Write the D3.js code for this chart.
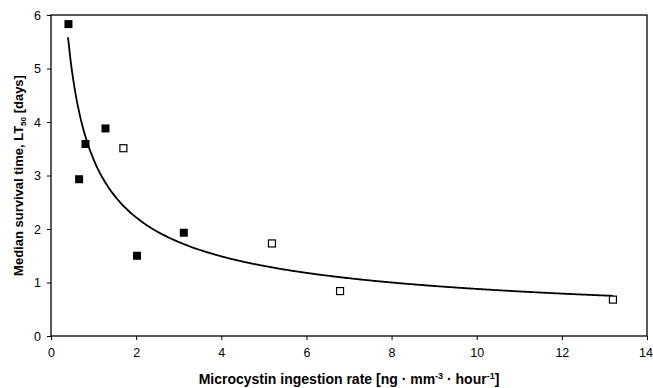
<!DOCTYPE html>
<html>
<head>
<meta charset="utf-8">
<script src="https://cdn.jsdelivr.net/npm/d3@7"></script>
<style>
	body { margin: 0; background: #fff; }
	text { font-family: 'Liberation Sans', Arial, sans-serif; }
</style>
</head>
<body>
<div id="chart"></div>
<script>
// filled squares (one set) and open squares (other set)
const filledX = [0.41, 0.66, 0.81, 1.28, 2.02, 3.12]
const filledY = [5.83, 2.93, 3.59, 3.88, 1.50, 1.93]
const openX = [1.70, 5.19, 6.79, 13.2]
const openY = [3.51, 1.73, 0.84, 0.68]
// power trend line y = a * x^b
const fitA = 3.3
const fitB = -0.574
const fitRange = [0.4, 13.2]
const xTicks = [0, 2, 4, 6, 8, 10, 12, 14]
const yTicks = [0, 1, 2, 3, 4, 5, 6]

const W = 653, H = 388
const margin = { top: 15, right: 6, bottom: 52, left: 51 }
const w = W - margin.left - margin.right
const h = H - margin.top - margin.bottom

const svg = d3.select('#chart').append('svg').attr('width', W).attr('height', H)
const g = svg.append('g').attr('transform', 'translate(' + margin.left + ',' + margin.top + ')')

const x = d3.scaleLinear().domain([0, 14]).range([0, w])
const y = d3.scaleLinear().domain([0, 6]).range([h, 0])

// frame
g.append('rect').attr('width', w).attr('height', h)
	.style('fill', 'none').style('stroke', '#000').style('stroke-width', 1.3)

const xAxis = g.append('g').attr('transform', 'translate(0,' + h + ')')
	.call(d3.axisBottom(x).tickValues(xTicks).tickFormat(d3.format('d')).tickSize(4).tickPadding(8))
const yAxis = g.append('g')
	.call(d3.axisLeft(y).tickValues(yTicks).tickFormat(d3.format('d')).tickSize(4).tickPadding(6))
;[xAxis, yAxis].forEach((a) => {
	a.select('.domain').remove()
	a.selectAll('line').style('stroke', '#000')
	a.selectAll('text').style('font-size', '12.5px').style('fill', '#000')
})
// last x label sits right at the page edge
xAxis.selectAll('.tick text').filter((d) => d === 14).attr('x', -1.5)

// trend line
const curveData = d3.range(fitRange[0], fitRange[1] + 0.001, 0.05).map((v) => [v, fitA * Math.pow(v, fitB)])
g.append('path')
	.datum(curveData)
	.attr('d', d3.line().x((d) => x(d[0])).y((d) => y(d[1])).curve(d3.curveMonotoneX))
	.style('fill', 'none').style('stroke', '#000').style('stroke-width', 1.8)

const sF = 8, sO = 7
g.selectAll('.filled').data(filledX).enter().append('rect')
	.attr('class', 'filled')
	.attr('x', (d) => x(d) - sF / 2)
	.attr('y', (d, i) => y(filledY[i]) - sF / 2)
	.attr('width', sF).attr('height', sF)
	.style('fill', '#000')

g.selectAll('.open').data(openX).enter().append('rect')
	.attr('class', 'open')
	.attr('x', (d) => x(d) - sO / 2)
	.attr('y', (d, i) => y(openY[i]) - sO / 2)
	.attr('width', sO).attr('height', sO)
	.style('fill', '#fff').style('stroke', '#000').style('stroke-width', 1.2)

// axis titles
const xt = svg.append('text')
	.attr('x', margin.left + w / 2).attr('y', 384)
	.attr('text-anchor', 'middle')
	.style('font-size', '14px').style('font-weight', 'bold')
xt.append('tspan').text('Microcystin ingestion rate [ng \u00b7 mm')
xt.append('tspan').attr('dy', -5).style('font-size', '9px').text('-3')
xt.append('tspan').attr('dy', 5).text(' \u00b7 hour')
xt.append('tspan').attr('dy', -5).style('font-size', '9px').text('-1')
xt.append('tspan').attr('dy', 5).text(']')

const yt = svg.append('text')
	.attr('transform', 'translate(23,' + (margin.top + h / 2) + ') rotate(-90)')
	.attr('text-anchor', 'middle')
	.style('font-size', '13px').style('font-weight', 'bold')
yt.append('tspan').text('Median survival time, LT')
yt.append('tspan').attr('dy', 3).style('font-size', '8px').text('50')
yt.append('tspan').attr('dy', -3).text(' [days]')
</script>
</body>
</html>
